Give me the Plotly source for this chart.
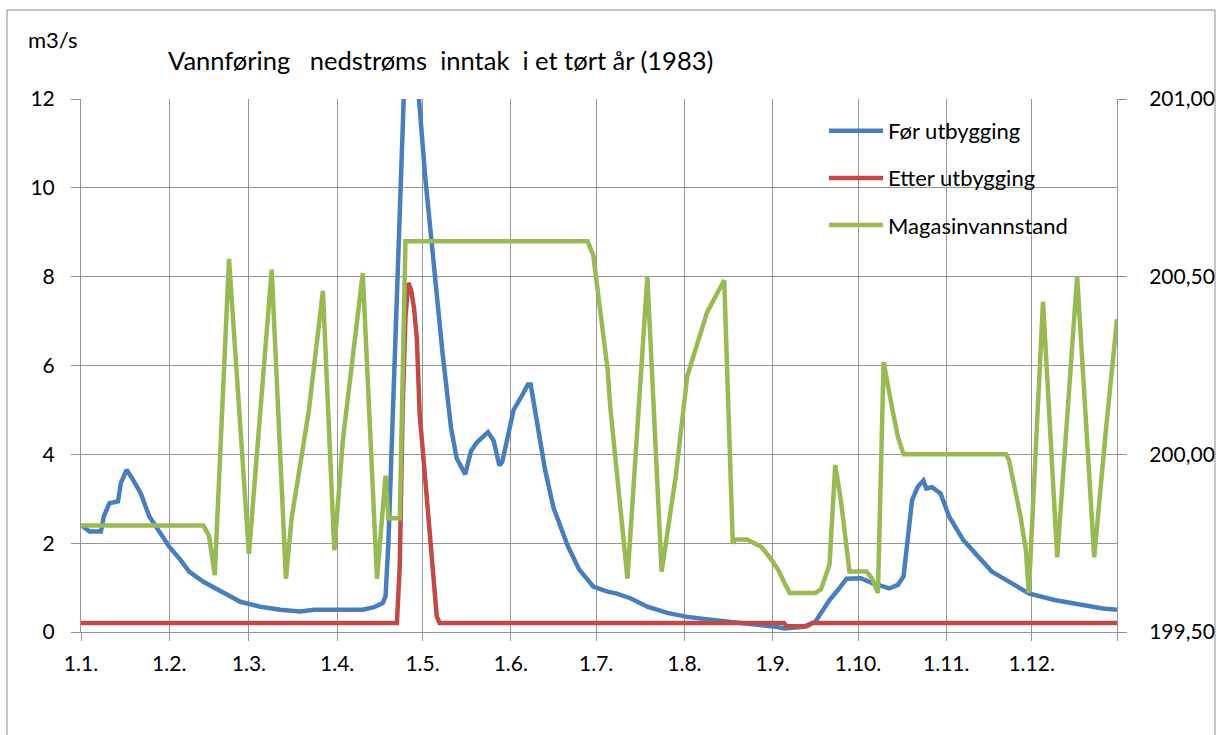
import plotly.graph_objects as go
import pandas as pd

YEAR_START = "1983-01-01"

# Før utbygging (m3/s), day-of-year offsets from 1 Jan
before_days = [0, 3, 7, 8, 10, 13, 14, 16, 18, 21, 24, 28, 31, 35, 38, 43, 49, 56, 63, 70, 77, 82, 99,
               103, 106, 107, 108, 109, 110, 111, 112, 113, 114, 115, 116, 117, 118, 119, 121, 123, 125,
               127, 130, 132, 135, 137, 139, 141, 143, 145, 147, 148, 150, 152, 155, 157, 158, 160, 163,
               166, 171, 175, 180, 185, 188, 193, 199, 206, 213, 222, 234, 244, 247, 254, 258, 263, 266,
               269, 274, 278, 284, 287, 289, 290, 292, 294, 296, 297, 299, 302, 305, 310, 315, 320, 328,
               333, 342, 351, 359, 364]
before_vals = [2.41, 2.26, 2.26, 2.6, 2.9, 2.94, 3.35, 3.65, 3.46, 3.12, 2.6, 2.22, 1.92, 1.62, 1.36, 1.13,
               0.91, 0.68, 0.57, 0.5, 0.46, 0.5, 0.5,
               0.56, 0.65, 0.8, 2.0, 3.9, 5.9, 7.9, 9.8, 11.7, 13.5, 15.0, 14.2, 13.4, 12.5, 11.7, 10.2,
               8.9, 7.46, 6.3, 4.6, 3.91, 3.55, 4.07, 4.26, 4.38, 4.5, 4.3, 3.75, 3.83, 4.38, 5.0, 5.33,
               5.57, 5.57, 4.75, 3.67, 2.8, 1.94, 1.41, 1.02, 0.91, 0.87, 0.76, 0.57, 0.43, 0.34, 0.27,
               0.2, 0.12, 0.08, 0.12, 0.23, 0.72, 0.95, 1.2, 1.21, 1.1, 0.98, 1.06, 1.25, 1.77, 2.97,
               3.27, 3.41, 3.23, 3.26, 3.12, 2.6, 2.07, 1.7, 1.36, 1.06, 0.87, 0.72, 0.61, 0.53, 0.5]

# Etter utbygging (m3/s)
after_days = [0, 111, 112, 113, 114, 115, 116, 117, 118, 119, 121, 123, 125, 126, 247, 248, 255, 257, 364]
after_vals = [0.2, 0.2, 1.5, 5.0, 7.1, 7.86, 7.7, 7.3, 6.6, 4.9, 3.4, 1.8, 0.35, 0.2, 0.2, 0.13, 0.13, 0.2, 0.2]

# Magasinvannstand (m.o.h., right axis)
level_days = [0, 43, 45, 47, 52, 59, 67, 72, 74, 80, 85, 89, 92, 99, 104, 107, 108, 112, 114, 178, 180,
              185, 186, 192, 199, 204, 209, 213, 220, 226, 229, 230, 234, 239, 242, 245, 247, 249, 258,
              260, 263, 265, 267, 270, 276, 278, 280, 282, 285, 287, 289, 325, 326, 330, 332, 333, 338,
              343, 350, 356, 360, 364]
level_vals = [199.80, 199.80, 199.77, 199.66, 200.55, 199.72, 200.52, 199.65, 199.82, 200.12, 200.46,
              199.73, 200.04, 200.51, 199.65, 199.94, 199.82, 199.82, 200.60, 200.60, 200.56, 200.24,
              200.13, 199.65, 200.50, 199.67, 199.94, 200.22, 200.40, 200.49, 199.75, 199.76, 199.76,
              199.74, 199.71, 199.675, 199.64, 199.61, 199.61, 199.62, 199.69, 199.97, 199.87, 199.67,
              199.67, 199.65, 199.61, 200.26, 200.13, 200.05, 200.00, 200.00, 199.985, 199.83, 199.73,
              199.61, 200.43, 199.71, 200.50, 199.71, 200.06, 200.38]

month_ticks = ["1983-01-01", "1983-02-01", "1983-03-01", "1983-04-01", "1983-05-01", "1983-06-01",
               "1983-07-01", "1983-08-01", "1983-09-01", "1983-10-01", "1983-11-01", "1983-12-01",
               "1983-12-31"]
month_labels = ["1.1.", "1.2.", "1.3.", "1.4.", "1.5.", "1.6.", "1.7.", "1.8.", "1.9.", "1.10.",
                "1.11.", "1.12.", ""]

left_ticks = [0, 2, 4, 6, 8, 10, 12]
right_ticks = [199.5, 200.0, 200.5, 201.0]

TITLE = "Vannføring\u00a0\u00a0\u00a0nedstrøms\u00a0\u00a0inntak\u00a0\u00a0i et tørt år (1983)"


def to_dates(days):
    return pd.Timestamp(YEAR_START) + pd.to_timedelta(days, unit="D")


FONT = "Lato"
GRID = "#969696"
LW = 4.5

fig = go.Figure()
fig.add_trace(go.Scatter(x=to_dates(before_days), y=before_vals, mode="lines", name="Før utbygging",
                         line=dict(color="#4A7EBB", width=LW), legendgroup="a"))
fig.add_trace(go.Scatter(x=to_dates(after_days), y=after_vals, mode="lines", name="Etter utbygging",
                         line=dict(color="#BE4B48", width=LW), legendgroup="b"))
fig.add_trace(go.Scatter(x=to_dates(level_days), y=level_vals, mode="lines", name="Magasinvannstand",
                         line=dict(color="#98B954", width=LW), legendgroup="c", yaxis="y2"))

W, H = 1217, 735
L, R, T, B = 81, 100, 99, 103
pw, ph = W - L - R, H - T - B


def px(xp):
    return (xp - L) / pw


def py(yp):
    return (H - B - yp) / ph


fig.update_layout(
    width=W, height=H, autosize=False,
    margin=dict(l=L, r=R, t=T, b=B, autoexpand=False),
    paper_bgcolor="white", plot_bgcolor="white",
    separators=",.",
    font=dict(family=FONT, color="black", size=21),
    showlegend=True,
    legend=dict(x=px(824), y=py(110), xanchor="left", yanchor="top", bgcolor="rgba(0,0,0,0)",
                font=dict(family=FONT, size=22, color="black"), tracegroupgap=15.5, itemwidth=54),
    xaxis=dict(type="date", range=["1983-01-01", "1983-12-31"], tickvals=month_ticks, ticktext=month_labels,
               showgrid=True, gridcolor=GRID, gridwidth=1, ticks="outside", ticklen=8, tickcolor=GRID,
               showline=True, linecolor=GRID, linewidth=1, zeroline=False, automargin=False,
               tickfont=dict(family=FONT, size=21, color="black"), ticklabelstandoff=5),
    yaxis=dict(range=[0, 12], tickvals=left_ticks, showgrid=True, gridcolor=GRID, gridwidth=1,
               ticks="outside", ticklen=9, tickcolor=GRID, showline=True, linecolor=GRID, linewidth=1,
               zeroline=False, automargin=False, tickfont=dict(family=FONT, size=21, color="black"),
               ticklabelstandoff=12),
    yaxis2=dict(range=[199.5, 201.0], tickvals=right_ticks, tickformat=".2f", overlaying="y", side="right",
                showgrid=False, ticks="outside", ticklen=9, tickcolor=GRID, showline=True, linecolor=GRID,
                linewidth=1, zeroline=False, automargin=False,
                tickfont=dict(family=FONT, size=21, color="black"), ticklabelstandoff=18),
    shapes=[
        dict(type="rect", xref="paper", yref="paper", x0=px(808), x1=px(1093), y0=py(248), y1=py(107),
             fillcolor="white", line=dict(width=0), layer="between"),
        dict(type="rect", xref="paper", yref="paper", x0=px(7), x1=px(1215), y0=py(745), y1=py(10),
             fillcolor="rgba(0,0,0,0)", line=dict(color="#8a8a8a", width=1), layer="below"),
    ],
    annotations=[
        dict(text=TITLE, xref="paper", yref="paper", x=px(440), y=py(60), xanchor="center", yanchor="middle",
             showarrow=False, font=dict(family=FONT, size=25.5, color="black")),
        dict(text="m3/s", xref="paper", yref="paper", x=px(26), y=py(40), xanchor="left", yanchor="middle",
             showarrow=False, font=dict(family=FONT, size=22, color="black")),
    ],
)

fig.write_html("out.html", config={"displayModeBar": False, "responsive": False},
               post_script="document.body.style.margin='0';document.body.style.overflow='hidden';")
